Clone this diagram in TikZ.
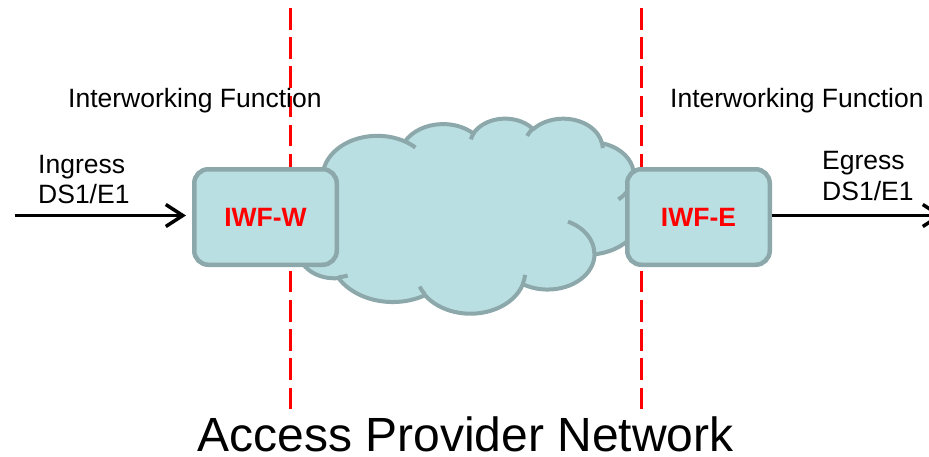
\documentclass[tikz,border=0pt]{standalone}
\usepackage{fontspec}
\setmainfont{Liberation Sans}
\usetikzlibrary{arrows.meta}

\definecolor{boxfill}{HTML}{B9DFE3}
\definecolor{boxline}{HTML}{8CA8AA}
\definecolor{iwfred}{HTML}{FF0000}

% Elliptical arc helper: radii, start angle and sweep given as visual
% angles (y pointing down); converts them to parametric arc angles.
\newcommand\cloudseg[4]{%
  \pgfmathsetmacro\cldA{atan2((#1)*sin(#3),(#2)*cos(#3))}%
  \pgfmathsetmacro\cldB{atan2((#1)*sin((#3)+(#4)),(#2)*cos((#3)+(#4)))}%
  \pgfmathsetmacro\cldB{\cldA+mod(\cldB-\cldA+720,360)}%
  \global\let\cldA\cldA\global\let\cldB\cldB}
\newcommand\carc[4]{\pgfextra{\cloudseg{#1}{#2}{#3}{#4}} arc[start angle=\cldA, end angle=\cldB, x radius=#1, y radius=#2]}

\tikzset{
  lbl/.style={inner sep=0pt, font=\fontsize{26.5}{30}\selectfont, text=black},
  title/.style={inner sep=0pt, text depth=0pt, font=\fontsize{48}{56}\selectfont, text=black},
  iwf/.style={draw=boxline, fill=boxfill, line width=4.5pt, rounded corners=14pt,
    inner sep=0pt, minimum width=142.5pt, minimum height=95.5pt,
    font=\fontsize{26.5}{30}\selectfont\bfseries, text=iwfred},
  border/.style={draw=iwfred, line width=2.5pt, dash pattern=on 21.5pt off 7.7pt},
  cloudbody/.style={draw=boxline, fill=boxfill, line width=4pt, line join=round},
  cloudrib/.style={draw=boxline, line width=4pt, line cap=butt},
  flow/.style={line width=3.5pt, -{Straight Barb[length=17pt, width=22pt]}},
}

\begin{document}
\begin{tikzpicture}[x=1pt, y=-1pt]
\useasboundingbox (0,0) rectangle (929,456);

% network boundaries
\coordinate (wtop) at (290.5,8);
\coordinate (wbot) at (290.5,410);
\coordinate (etop) at (641.5,8);
\coordinate (ebot) at (641.5,410);
\draw[border] (wtop) -- (wbot);
\draw[border] (etop) -- (ebot);

% provider cloud, built on a 432 x 432 grid with y pointing down
\begin{scope}[shift={(291.5,118)}, x=0.81019pt, y=-0.45139pt]
  \path[cloudbody] (39.00,143.70)
    \carc{67.53}{91.90}{-190.4875}{123.7805}
    \carc{53.33}{72.67}{-144.1024}{89.9452}
    \carc{43.65}{59.45}{-145.8079}{99.7230}
    \carc{48.57}{65.95}{-130.9861}{117.2417}
    \carc{53.33}{72.73}{-78.7089}{109.0269}
    \carc{67.75}{92.20}{-46.2673}{130.2690}
    \carc{57.85}{78.67}{0.6250}{114.0333}
    \carc{67.52}{92.15}{22.4516}{115.1726}
    \carc{77.20}{105.43}{66.2426}{75.7110}
    \carc{43.60}{59.18}{-274.9421}{146.7356}
    \carc{43.45}{59.45}{-246.8285}{152.5189}
    -- cycle;
  \path[cloudrib] (46.93,261.77) \carc{43.45}{59.45}{86.742}{26.4295};
  \path[cloudrib] (69.28,348.99) \carc{43.60}{59.18}{73.6105}{11.4475};
  \path[cloudrib] (164.78,390.90) \carc{67.52}{92.15}{137.6242}{14.0811};
  \path[cloudrib] (288.27,347.51) \carc{67.52}{92.15}{6.4533}{15.9984};
  \path[cloudrib] (341.29,229.54) \carc{57.85}{78.67}{-70.2924}{70.9174};
  \path[cloudrib] (417.98,153.54) \carc{53.33}{72.73}{30.3180}{27.7515};
  \path[cloudrib] (383.24,54.26) \carc{48.57}{65.95}{-13.7443}{14.8589};
  \path[cloudrib] (290.78,39.52) \carc{48.57}{65.95}{-149.1815}{18.1954};
  \path[cloudrib] (221.41,47.20) \carc{43.65}{59.45}{-163.4943}{17.6864};
  \path[cloudrib] (140.00,51.92) \carc{67.53}{91.90}{-66.7070}{12.3194};
  \path[cloudrib] (41.27,157.89) \carc{67.53}{91.90}{157.6544}{11.8582};
\end{scope}

% interworking function boxes
\node[iwf] (iwfw) at (265.5,217) {IWF-W};
\node[iwf] (iwfe) at (698.5,217) {IWF-E};

% labels
\node[lbl, anchor=base west] (iwflabw) at (68,107) {Interworking Function};
\node[lbl, anchor=base west] (iwflabe) at (670,107) {Interworking Function};
\node[lbl, anchor=base west] (ingress) at (38,173) {Ingress};
\node[lbl, anchor=base west] (ingds) at (38,203) {DS1/E1};
\node[lbl, anchor=base west] (egress) at (822,169) {Egress};
\node[lbl, anchor=base west] (egds) at (822,200) {DS1/E1};
\node[title, anchor=base] (apn) at (465.5,451) {Access Provider Network};

% traffic in and out
\coordinate (src) at (15,215.5);
\coordinate (dst) at (943,215.5);
\draw[flow, shorten >=6pt] (src) -- (src -| iwfw.west);
\draw[flow] (iwfe.east |- dst) -- (dst);
\end{tikzpicture}
\end{document}
